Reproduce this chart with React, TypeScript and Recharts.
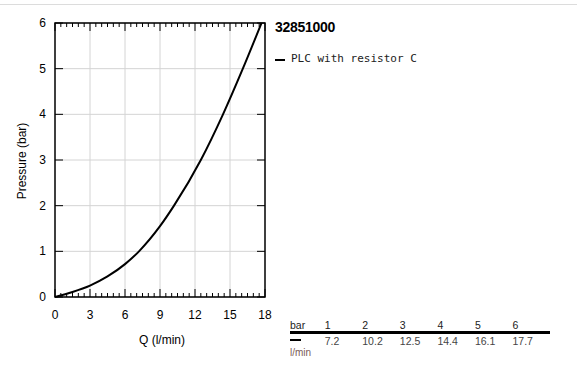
import React from "react";
import {
  LineChart,
  Line,
  XAxis,
  YAxis,
  CartesianGrid,
  ReferenceArea,
} from "recharts";

// flow (l/min) vs pressure (bar)
const flowValues = [0, 1.5, 3, 4.5, 6, 7.2, 9, 10.2, 12.5, 14.4, 16.1, 17.7];
const pressureValues = [0, 0.11, 0.25, 0.45, 0.72, 1, 1.55, 2, 3, 4, 5, 6];

// every 0.5 l/min gets a small tick, every 3 a labelled one
const xTicks = [0, 0.5, 1, 1.5, 2, 2.5, 3, 3.5, 4, 4.5, 5, 5.5, 6, 6.5, 7, 7.5, 8, 8.5, 9,
  9.5, 10, 10.5, 11, 11.5, 12, 12.5, 13, 13.5, 14, 14.5, 15, 15.5, 16, 16.5, 17, 17.5, 18];
const yTicks = [0, 1, 2, 3, 4, 5, 6];

// table under the legend
const tableBar = ["1", "2", "3", "4", "5", "6"];
const tableFlow = ["7.2", "10.2", "12.5", "14.4", "16.1", "17.7"];

const seriesName = "PLC with resistor C";
const articleNo = "32851000";

const data = flowValues.map((q, i) => ({ q, p: pressureValues[i] }));

const font = "'Liberation Sans', Arial, sans-serif";

const isMajor = (v: number) => v % 3 === 0;

const BottomTick = (props: any) => {
  const { x, y, payload } = props;
  const v = payload.value;
  return (
    <g>
      <line x1={x} x2={x} y1={y} y2={y - (isMajor(v) ? 8 : 4)} stroke="#000" />
      {isMajor(v) && (
        <text x={x} y={y + 22} textAnchor="middle" fontSize={12} fill="#000" fontFamily={font}>
          {v}
        </text>
      )}
    </g>
  );
};

const TopTick = (props: any) => {
  const { x, y, payload } = props;
  return <line x1={x} x2={x} y1={y} y2={y + (isMajor(payload.value) ? 8 : 4)} stroke="#000" />;
};

const LeftTick = (props: any) => {
  const { x, y, payload } = props;
  return (
    <g>
      <line x1={x} x2={x + 8} y1={y} y2={y} stroke="#000" />
      <text x={x - 9} y={y + 4} textAnchor="end" fontSize={12} fill="#000" fontFamily={font}>
        {payload.value}
      </text>
    </g>
  );
};

const RightTick = (props: any) => {
  const { x, y } = props;
  return <line x1={x} x2={x - 8} y1={y} y2={y} stroke="#000" />;
};

export default function App() {
  return (
    <div style={{ position: "absolute", left: 0, top: 0, width: 577, height: 374, background: "#fff", fontFamily: font }}>
      <div style={{ position: "absolute", left: 0, top: 4, width: 577, height: 1, background: "#dcdcdc" }} />

      <LineChart
        width={577}
        height={374}
        data={data}
        margin={{ top: 22, right: 311, bottom: 47, left: 25 }}
      >
        <XAxis
          dataKey="q"
          type="number"
          domain={[0, 18]}
          ticks={xTicks}
          height={30}
          tickSize={0}
          tickMargin={0}
          tickLine={false}
          axisLine={false}
          tick={BottomTick}
          interval={0}
        />
        <YAxis
          dataKey="p"
          type="number"
          domain={[0, 6]}
          ticks={yTicks}
          width={30}
          tickSize={0}
          tickMargin={0}
          tickLine={false}
          axisLine={false}
          tick={LeftTick}
          interval={0}
        />
        <XAxis
          xAxisId="top"
          dataKey="q"
          type="number"
          domain={[0, 18]}
          ticks={xTicks}
          orientation="top"
          height={1}
          tickSize={0}
          tickMargin={0}
          tickLine={false}
          axisLine={false}
          tick={TopTick}
          interval={0}
        />
        <YAxis
          yAxisId="right"
          dataKey="p"
          type="number"
          domain={[0, 6]}
          ticks={yTicks}
          orientation="right"
          width={1}
          tickSize={0}
          tickMargin={0}
          tickLine={false}
          axisLine={false}
          tick={RightTick}
          interval={0}
        />
        <CartesianGrid stroke="#d4d4d4" strokeWidth={1} horizontalValues={yTicks} verticalValues={[3, 6, 9, 12, 15]} />
        <ReferenceArea x1={0} x2={18} y1={0} y2={6} fill="none" fillOpacity={0} stroke="#000" strokeWidth={1.5} />

        {/* invisible copy so the top/right tick axes get a domain */}
        <Line xAxisId="top" yAxisId="right" dataKey="p" stroke="none" dot={false} activeDot={false} legendType="none" isAnimationActive={false} />

        <Line
          type="monotone"
          dataKey="p"
          stroke="#000"
          strokeWidth={2}
          dot={false}
          isAnimationActive={false}
        />
      </LineChart>

      {/* axis titles */}
      <div style={{ position: "absolute", left: 110, top: 333, width: 104, textAlign: "center", fontSize: 12, color: "#000" }}>
        Q (l/min)
      </div>
      <div
        style={{
          position: "absolute",
          left: 22,
          top: 161,
          fontSize: 12,
          color: "#000",
          whiteSpace: "nowrap",
          transform: "translate(-50%, -50%) rotate(-90deg)",
        }}
      >
        Pressure (bar)
      </div>

      {/* title + legend */}
      <div style={{ position: "absolute", left: 275, top: 19, fontSize: 14, fontWeight: "bold", color: "#000", letterSpacing: -0.3 }}>
        {articleNo}
      </div>
      <div style={{ position: "absolute", left: 275, top: 59, width: 10, height: 2, background: "#000" }} />
      <div style={{ position: "absolute", left: 291, top: 52, fontSize: 11, color: "#222", fontFamily: "'DejaVu Sans Mono', monospace" }}>
        {seriesName}
      </div>

      {/* flow table */}
      <div style={{ position: "absolute", left: 290, top: 320, width: 260, fontSize: 10.5 }}>
        <div style={{ display: "flex", height: 11, lineHeight: "11px", color: "#222" }}>
          <div style={{ width: 37 }}>bar</div>
          {tableBar.map((b) => (
            <div key={b} style={{ width: 40 }}>{b}</div>
          ))}
        </div>
        <div style={{ height: 3, background: "#000", marginTop: 0 }} />
        <div style={{ display: "flex", height: 12, lineHeight: "12px", marginTop: 1, color: "#444" }}>
          <div style={{ width: 37, position: "relative" }}>
            <div style={{ position: "absolute", left: 0, top: 4, width: 11, height: 2, background: "#000" }} />
          </div>
          {tableFlow.map((f) => (
            <div key={f} style={{ width: 40 }}>{f}</div>
          ))}
        </div>
        <div style={{ color: "#7a5a58", lineHeight: "11px", fontSize: 10 }}>l/min</div>
      </div>
    </div>
  );
}
